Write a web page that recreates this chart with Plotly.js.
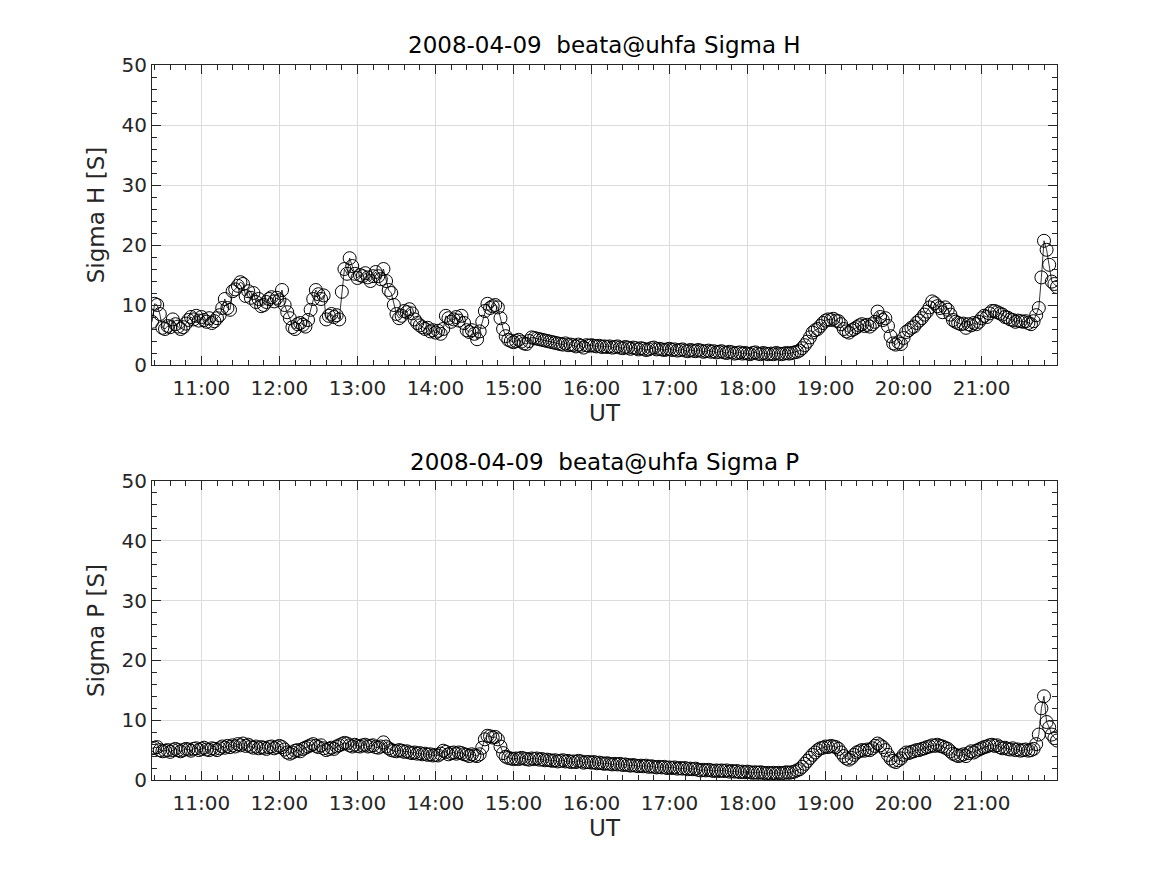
<!DOCTYPE html>
<html>
<head>
<meta charset="utf-8">
<script src="https://cdn.plot.ly/plotly-3.0.1.min.js"></script>
<style>html,body{margin:0;padding:0;background:#fff;}#chart{width:1167px;height:875px;}</style>
</head>
<body>
<div id="chart"></div>
<script>
// Sampling grid: one value every 2 minutes, from 10:22 to 21:58 UT on 2008-04-09
const dateStr = "2008-04-09";
const startTime = "10:22";
const stepMinutes = 2;

// Sigma H [S] (top panel)
const sigmaH = [
  7.2,10.2,10.0,8.5,6.2,6.0,6.5,6.3,7.6,6.8,
  6.4,6.0,6.3,6.9,7.5,8.0,7.6,8.2,7.4,8.0,
  7.5,7.2,7.8,7.0,7.3,7.8,8.3,9.5,11.0,9.5,
  9.2,12.3,12.6,13.2,13.8,13.5,11.5,12.3,11.2,12.0,
  10.5,11.0,9.8,10.0,10.5,11.0,11.3,10.6,11.2,10.8,
  12.5,10.0,8.8,7.8,6.3,6.0,6.8,7.0,6.7,6.4,
  7.5,9.2,11.0,12.5,11.8,11.0,11.6,7.6,8.2,8.5,
  8.0,8.3,7.6,12.2,16.0,15.2,17.8,16.5,15.2,14.5,
  15.0,14.8,15.3,14.6,14.0,14.8,15.5,14.8,14.3,16.0,
  14.0,12.5,12.0,10.0,8.5,7.8,8.2,9.0,8.8,9.3,
  8.6,7.6,7.0,6.6,6.3,6.0,6.2,5.6,5.8,5.4,
  5.7,5.2,6.0,8.2,7.8,7.2,7.6,8.0,7.4,8.2,
  7.0,5.8,5.5,5.8,5.2,4.3,5.6,7.2,9.0,10.2,
  9.5,9.8,10.0,9.6,7.8,6.0,4.8,4.2,4.0,3.8,
  4.0,4.2,3.9,3.6,3.5,4.0,4.6,4.5,4.4,4.3,
  4.2,4.1,4.0,3.9,3.8,3.7,3.6,3.5,3.4,3.6,
  3.3,3.4,3.3,3.1,3.4,3.2,2.9,3.3,3.2,3.3,
  3.2,3.1,3.2,3.0,3.1,3.0,3.1,2.9,3.0,3.1,
  2.9,2.8,3.0,2.9,2.7,2.9,2.8,2.6,2.8,2.7,
  2.5,2.6,2.8,2.9,2.6,2.7,2.6,2.5,2.6,2.7,
  2.5,2.6,2.4,2.5,2.6,2.4,2.3,2.5,2.4,2.3,
  2.5,2.4,2.2,2.3,2.4,2.2,2.3,2.1,2.2,2.3,
  2.1,2.0,2.2,2.1,1.9,2.0,2.1,1.9,2.0,1.9,
  1.8,2.0,2.1,1.9,1.8,2.0,1.9,1.8,1.9,1.8,
  2.0,1.9,1.8,1.9,2.0,1.9,2.0,2.1,2.2,2.4,
  2.8,3.3,3.9,4.6,5.4,5.8,6.0,6.5,7.0,7.4,
  7.6,7.5,7.7,7.4,7.3,6.8,6.0,5.6,5.4,5.8,
  6.0,6.3,6.6,6.8,6.5,6.7,6.4,6.8,7.2,8.9,
  8.0,7.5,7.8,6.5,4.8,3.6,3.4,3.8,3.5,4.5,
  5.5,5.8,6.2,6.4,7.0,7.4,7.8,8.4,8.9,9.6,
  10.6,10.3,9.8,9.5,8.8,9.6,9.2,8.4,7.5,7.2,
  7.0,6.8,6.9,6.2,6.8,6.6,7.0,6.8,7.2,7.8,
  8.2,8.0,8.6,9.0,9.0,8.8,8.6,8.4,8.0,7.9,
  7.6,7.5,7.2,7.4,7.3,7.2,7.3,7.0,6.8,7.3,
  8.3,9.5,14.6,20.7,19.2,16.7,13.9,13.5,13.0
];

// Sigma P [S] (bottom panel)
const sigmaP = [
  5.3,5.4,5.5,5.0,4.8,4.9,5.0,4.7,5.0,5.2,
  5.0,4.8,5.0,5.2,5.1,4.9,5.2,5.3,5.0,5.2,
  5.4,5.1,5.0,5.3,5.2,5.0,5.3,5.6,5.4,5.7,
  5.5,5.8,5.6,6.0,5.8,6.1,5.7,5.9,5.6,5.4,
  5.6,5.3,5.5,5.4,5.2,5.5,5.6,5.3,5.5,5.7,
  5.5,5.1,4.6,4.4,4.6,4.9,5.0,4.8,5.2,5.4,
  5.6,5.8,6.0,5.7,5.5,5.8,5.3,5.0,5.2,5.4,
  5.2,5.6,5.8,6.0,6.2,6.1,5.8,5.6,5.9,5.7,
  5.6,5.8,5.9,5.6,5.7,5.8,5.5,5.4,5.6,6.3,
  5.6,5.3,5.0,4.9,4.8,5.0,4.9,4.7,4.8,4.6,
  4.5,4.6,4.4,4.5,4.3,4.4,4.2,4.3,4.1,4.2,
  4.1,4.4,4.9,4.7,4.3,4.5,4.6,4.4,4.6,4.5,
  4.3,4.2,4.0,4.3,4.1,4.0,4.3,5.4,6.8,7.4,
  7.3,7.1,7.2,6.8,5.6,4.5,3.9,3.7,3.6,3.5,
  3.6,3.5,3.7,3.6,3.5,3.4,3.6,3.5,3.6,3.4,
  3.5,3.3,3.4,3.3,3.2,3.3,3.1,3.2,3.3,3.1,
  3.2,3.0,3.1,3.0,3.2,3.1,2.9,3.0,3.0,2.9,
  3.0,2.8,2.9,2.8,2.7,2.8,2.7,2.6,2.7,2.6,
  2.7,2.5,2.6,2.5,2.4,2.5,2.4,2.3,2.4,2.3,
  2.4,2.2,2.3,2.2,2.1,2.2,2.1,2.2,2.0,2.1,
  2.0,2.1,1.9,2.0,1.9,2.0,1.8,1.9,1.8,1.9,
  1.7,1.6,1.7,1.6,1.7,1.6,1.5,1.6,1.5,1.6,
  1.5,1.6,1.4,1.5,1.4,1.5,1.3,1.4,1.3,1.4,
  1.3,1.2,1.3,1.2,1.3,1.2,1.1,1.2,1.1,1.2,
  1.1,1.2,1.1,1.2,1.3,1.2,1.3,1.4,1.6,1.8,
  2.2,2.7,3.2,3.7,4.2,4.6,5.0,5.3,5.4,5.6,
  5.5,5.7,5.6,5.5,5.2,4.6,4.0,3.6,3.4,3.7,
  4.2,4.6,4.8,5.0,4.9,5.1,5.0,5.3,5.7,6.1,
  5.8,5.5,5.0,4.2,3.6,3.2,3.0,3.3,3.6,4.2,
  4.6,4.5,4.7,4.8,5.0,5.0,5.2,5.3,5.5,5.6,
  5.8,5.7,5.9,5.7,5.6,5.4,5.2,4.8,4.4,4.2,
  4.0,4.1,4.3,4.0,4.5,4.8,4.6,4.9,5.1,5.3,
  5.5,5.6,5.8,5.9,5.7,5.8,5.5,5.3,5.4,5.2,
  5.1,5.3,5.0,5.1,4.9,5.0,5.1,4.9,5.0,5.2,
  6.0,7.6,12.0,14.0,9.7,8.8,7.6,7.0,6.6
];

const titleH = "2008-04-09 \u00a0beata@uhfa Sigma H";
const titleP = "2008-04-09 \u00a0beata@uhfa Sigma P";
const xLabel = "UT";
const yLabelH = "Sigma H [S]";
const yLabelP = "Sigma P [S]";
const xRange = ["2008-04-09 10:22", "2008-04-09 21:58"];
const yRange = [0, 50];

// build the time stamps of the sampling grid
const [sh, sm] = startTime.split(":").map(Number);
function stamp(k) {
  const m = sh * 60 + sm + k * stepMinutes;
  const hh = String(Math.floor(m / 60)).padStart(2, "0");
  const mm = String(m % 60).padStart(2, "0");
  return dateStr + " " + hh + ":" + mm;
}
const times = sigmaH.map((_, k) => stamp(k));

const FONT = "DejaVu Sans, Liberation Sans, sans-serif";
const TXT = "#262626";
const TICK_SIZE = 20;
const LABEL_SIZE = 23;

function trace(y, xa, ya) {
  return {
    x: times, y: y, xaxis: xa, yaxis: ya,
    type: "scatter", mode: "lines+markers",
    line: {color: "#000", width: 0.8},
    marker: {symbol: "circle-open", size: 13, color: "#000", line: {width: 1, color: "#000"}},
    hoverinfo: "x+y", showlegend: false
  };
}

function xaxis(domainAnchor) {
  return {
    domain: [152/1167, 1057/1167], anchor: domainAnchor,
    type: "date", range: xRange, tickformat: "%H:%M",
    tick0: "2008-04-09 00:00", dtick: 3600000,
    ticks: "inside", ticklen: 9, tickwidth: 1, tickcolor: TXT,
    minor: {ticks: "inside", ticklen: 5, tickwidth: 1, tickcolor: TXT, dtick: 720000, tick0: "2008-04-09 00:00", showgrid: false},
    showline: true, linecolor: TXT, linewidth: 1, mirror: "ticks",
    showgrid: true, gridcolor: "#dcdcdc", gridwidth: 1,
    zeroline: false,
    ticklabelstandoff: 5,
    tickfont: {family: FONT, size: TICK_SIZE, color: TXT},
    title: {text: xLabel, font: {family: FONT, size: LABEL_SIZE, color: TXT}, standoff: 2},
    automargin: false
  };
}
function yaxis(dom, anchor, label) {
  return {
    domain: dom, anchor: anchor, range: yRange,
    tick0: 0, dtick: 10,
    ticks: "inside", ticklen: 9, tickwidth: 1, tickcolor: TXT,
    minor: {ticks: "inside", ticklen: 5, tickwidth: 1, tickcolor: TXT, dtick: 2, showgrid: false},
    showline: true, linecolor: TXT, linewidth: 1, mirror: "ticks",
    showgrid: true, gridcolor: "#dcdcdc", gridwidth: 1,
    zeroline: false,
    tickfont: {family: FONT, size: TICK_SIZE, color: TXT},
    title: {text: label, font: {family: FONT, size: LABEL_SIZE, color: TXT}, standoff: 10},
    automargin: false
  };
}

const layout = {
  width: 1167, height: 875,
  margin: {l: 0, r: 0, t: 0, b: 0},
  paper_bgcolor: "#fff", plot_bgcolor: "#fff",
  xaxis: xaxis("y"),
  yaxis: yaxis([1 - 365/875, 1 - 65/875], "x", yLabelH),
  xaxis2: xaxis("y2"),
  yaxis2: yaxis([1 - 780/875, 1 - 481/875], "x2", yLabelP),
  annotations: [
    {text: titleH, xref: "paper", yref: "paper", x: 604.5/1167, y: 1 - 45/875, xanchor: "center", yanchor: "middle", showarrow: false, font: {family: FONT, size: LABEL_SIZE, color: "#000"}},
    {text: titleP, xref: "paper", yref: "paper", x: 604.5/1167, y: 1 - 462/875, xanchor: "center", yanchor: "middle", showarrow: false, font: {family: FONT, size: LABEL_SIZE, color: "#000"}}
  ]
};

Plotly.newPlot("chart", [trace(sigmaH, "x", "y"), trace(sigmaP, "x2", "y2")], layout, {staticPlot: true, displayModeBar: false});
</script>
</body>
</html>
